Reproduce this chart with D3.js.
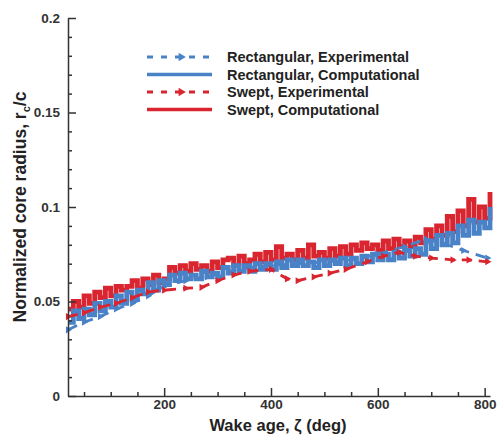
<!DOCTYPE html>
<html>
<head>
<meta charset="utf-8">
<script src="https://cdn.jsdelivr.net/npm/d3@7"></script>
<style>
  body { margin: 0; background: #fff; }
  svg { font-family: Arial, "Liberation Sans", Helvetica, sans-serif; }
</style>
</head>
<body>
<svg id="chart" width="498" height="439"></svg>
<script>
// wake age (deg) for the computational curves
const compAge = [20, 30, 40, 50, 60, 70, 80, 90, 100, 110, 120, 130, 140, 150, 160, 170, 180, 190, 200,
  210, 220, 230, 240, 250, 260, 270, 280, 290, 300, 310, 320, 330, 340, 350, 360, 370, 380, 390, 400,
  410, 420, 430, 440, 450, 460, 470, 480, 490, 500, 510, 520, 530, 540, 550, 560, 570, 580, 590, 600,
  610, 620, 630, 640, 650, 660, 670, 680, 690, 700, 710, 720, 730, 740, 750, 760, 770, 780, 790, 800, 810];

const sweptComp = [0.046, 0.050, 0.047, 0.053, 0.049, 0.055, 0.052, 0.057, 0.053, 0.058,
  0.056, 0.058, 0.061, 0.057, 0.062, 0.059, 0.064, 0.060, 0.062,
  0.068, 0.065, 0.069, 0.066, 0.070, 0.067, 0.069, 0.066,
  0.071, 0.068, 0.072, 0.073, 0.069, 0.074, 0.070, 0.072, 0.075, 0.071,
  0.076, 0.072, 0.079, 0.073, 0.075, 0.072, 0.077, 0.073, 0.080, 0.074, 0.076, 0.073, 0.078, 0.074, 0.079, 0.075,
  0.080, 0.077, 0.081, 0.078, 0.080, 0.077, 0.082, 0.078, 0.083, 0.079, 0.082, 0.079, 0.084,
  0.081, 0.088, 0.083, 0.090, 0.085,
  0.095, 0.087, 0.098, 0.090, 0.104, 0.092, 0.100,
  0.094, 0.108];

const rectComp = [0.039, 0.045, 0.041, 0.046, 0.043, 0.049, 0.045, 0.050, 0.047,
  0.053, 0.049, 0.055, 0.051, 0.056,
  0.054, 0.060, 0.056, 0.061, 0.059,
  0.064, 0.061, 0.065, 0.062, 0.064, 0.062, 0.066, 0.063, 0.065, 0.063,
  0.068, 0.065, 0.069, 0.066, 0.069, 0.066, 0.070, 0.067, 0.070, 0.067,
  0.071, 0.068, 0.072, 0.069, 0.072, 0.069, 0.071, 0.068, 0.072, 0.069, 0.072, 0.070, 0.073, 0.069, 0.073, 0.070,
  0.074, 0.071, 0.075, 0.072, 0.075, 0.072, 0.076, 0.073, 0.077, 0.074, 0.078, 0.075,
  0.082, 0.078, 0.085, 0.080, 0.086, 0.081,
  0.090, 0.085, 0.093, 0.086, 0.092,
  0.089, 0.100];

// experimental measurements
const rectExpAge = [20, 50, 80, 110, 140, 170, 200, 240, 280, 320, 360, 400, 450, 500, 550, 600, 650, 690, 720, 760, 805];
const rectExp = [0.035, 0.039, 0.042, 0.046, 0.049, 0.053, 0.058, 0.061, 0.063, 0.066, 0.068, 0.069, 0.070, 0.071, 0.072, 0.075, 0.079, 0.083, 0.081, 0.077, 0.073];

const sweptExpAge = [20, 50, 80, 110, 140, 170, 200, 240, 270, 300, 330, 360, 400, 430, 450, 480, 510, 540, 580, 610, 640, 670, 700, 740, 770, 805];
const sweptExp = [0.042, 0.044, 0.047, 0.049, 0.052, 0.055, 0.056, 0.057, 0.0575, 0.061, 0.064, 0.066, 0.067, 0.062, 0.061, 0.063, 0.065, 0.067, 0.071, 0.074, 0.076, 0.074, 0.073, 0.072, 0.072, 0.071];

const xMajor = [200, 400, 600, 800];
const xMinor = [50, 100, 150, 250, 300, 350, 450, 500, 550, 650, 700, 750];
const yMajor = [0, 0.05, 0.1, 0.15, 0.2];
const yMinor = [0.01, 0.02, 0.03, 0.04, 0.06, 0.07, 0.08, 0.09, 0.11, 0.12, 0.13, 0.14, 0.16, 0.17, 0.18, 0.19];

const legendLabels = ["Rectangular, Experimental", "Rectangular, Computational", "Swept, Experimental", "Swept, Computational"];

const blue = "#4a82c8", red = "#d9252f";

const svg = d3.select("#chart");
const margin = { left: 68, right: 8, top: 18, bottom: 43 };
const width = 498 - margin.left - margin.right,
      height = 439 - margin.top - margin.bottom;

const x = d3.scaleLinear().domain([20, 810]).range([margin.left, margin.left + width]);
const y = d3.scaleLinear().domain([0, 0.2]).range([margin.top + height, margin.top]);

// series
const series = [
  { age: compAge, val: sweptComp, color: red, dashed: false, w: 4.8 },
  { age: compAge, val: rectComp, color: blue, dashed: false, w: 4.8 },
  { age: rectExpAge, val: rectExp, color: blue, dashed: true, w: 2.8 },
  { age: sweptExpAge, val: sweptExp, color: red, dashed: true, w: 2.8 }
];

const stepLine = d3.line().x(d => x(d[0])).y(d => y(d[1])).curve(d3.curveStepAfter);
const plainLine = d3.line().x(d => x(d[0])).y(d => y(d[1]));

const plot = svg.append("g");
series.forEach(s => {
  const pts = s.age.map((a, i) => [a, s.val[i]]);
  plot.append("path")
    .attr("d", s.dashed ? plainLine(pts) : stepLine(pts))
    .attr("fill", "none")
    .attr("stroke", s.color)
    .attr("stroke-width", s.w)
    .attr("stroke-dasharray", s.dashed ? "10,7" : null);
  if (s.dashed) {
    plot.selectAll(null)
      .data(pts)
      .join("path")
      .attr("d", d3.symbol(d3.symbolTriangle, 22))
      .attr("transform", d => `translate(${x(d[0])},${y(d[1])}) rotate(90)`)
      .attr("fill", s.color);
  }
});

// axes
const axisColor = "#333";
svg.append("g")
  .attr("transform", `translate(0,${margin.top + height})`)
  .call(d3.axisBottom(x).tickValues(xMajor).tickSizeInner(-8).tickSizeOuter(0).tickPadding(3));
svg.append("g")
  .attr("transform", `translate(0,${margin.top + height})`)
  .call(d3.axisBottom(x).tickValues(xMinor).tickSizeInner(-4).tickSizeOuter(0).tickFormat(""))
  .select(".domain").remove();

svg.append("g")
  .attr("transform", `translate(${margin.left},0)`)
  .call(d3.axisLeft(y).tickValues(yMajor).tickSizeInner(-8).tickSizeOuter(0).tickPadding(8)
    .tickFormat(d => d === 0 ? "0" : String(d)));
svg.append("g")
  .attr("transform", `translate(${margin.left},0)`)
  .call(d3.axisLeft(y).tickValues(yMinor).tickSizeInner(-4).tickSizeOuter(0).tickFormat(""))
  .select(".domain").remove();

svg.selectAll(".domain, .tick line").attr("stroke", axisColor).attr("stroke-width", 1.5);
svg.selectAll(".tick text")
  .attr("fill", "#333")
  .attr("font-size", 13.5)
  .attr("font-weight", "bold");

// axis titles
svg.append("text")
  .attr("x", 278).attr("y", 431)
  .attr("text-anchor", "middle")
  .attr("font-size", 16.5).attr("font-weight", "bold").attr("fill", "#222")
  .text("Wake age, ζ (deg)");

const yt = svg.append("text")
  .attr("transform", "translate(26,207) rotate(-90)")
  .attr("text-anchor", "middle")
  .attr("font-size", 17.5).attr("font-weight", "bold").attr("fill", "#222");
yt.append("tspan").text("Normalized core radius, r");
yt.append("tspan").attr("font-size", 11).attr("dy", 4).text("c");
yt.append("tspan").attr("dy", -4).text("/c");

// legend
const legend = svg.append("g");
const legendY = [57, 74.5, 92, 109.5];
legendLabels.forEach((lab, i) => {
  const s = [series[2], series[1], series[3], series[0]][i];
  const ly = legendY[i];
  legend.append("line")
    .attr("x1", 147).attr("x2", 212).attr("y1", ly).attr("y2", ly)
    .attr("stroke", s.color).attr("stroke-width", s.dashed ? 2.8 : 3.5)
    .attr("stroke-dasharray", s.dashed ? "6,8" : null);
  if (s.dashed) {
    legend.append("path")
      .attr("d", d3.symbol(d3.symbolTriangle, 30))
      .attr("transform", `translate(181,${ly}) rotate(90)`)
      .attr("fill", s.color);
  }
  legend.append("text")
    .attr("x", 227).attr("y", ly + 5)
    .attr("font-size", 14.5).attr("font-weight", "bold").attr("fill", "#222")
    .text(lab);
});
</script>
</body>
</html>
